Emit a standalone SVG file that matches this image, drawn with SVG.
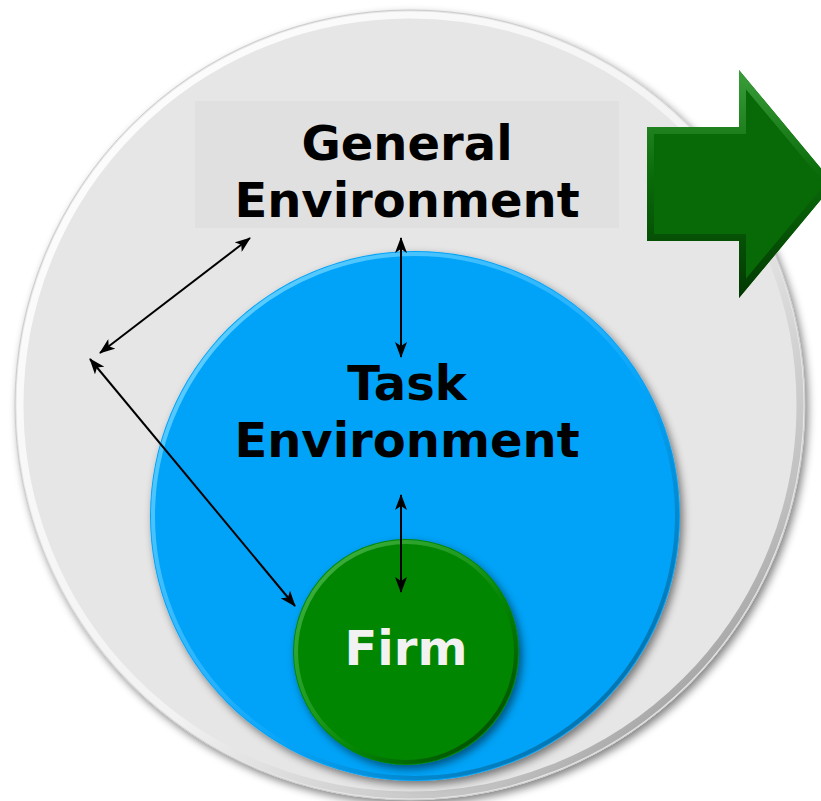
<svg xmlns="http://www.w3.org/2000/svg" width="821" height="801" viewBox="0 0 821 801">
  <defs>
    <style>
      .lbl { font-family: "DejaVu Sans", Verdana, sans-serif; font-weight: bold; font-size: 48px; text-anchor: middle; }
      .dark { fill: #000000; }
      .light { fill: #f2f2f2; }
      .conn { stroke: #000; stroke-width: 2; fill: none; marker-start: url(#ah); marker-end: url(#ah); }
    </style>
    <marker id="ah" viewBox="0 0 16 12" refX="15" refY="6" markerWidth="16" markerHeight="12" markerUnits="userSpaceOnUse" orient="auto-start-reverse">
      <path d="M0,0 L16,6 L0,12 L4,6 z" fill="#000"/>
    </marker>
    <filter id="shadow" x="-10%" y="-10%" width="120%" height="120%">
      <feGaussianBlur in="SourceAlpha" stdDeviation="4"/>
      <feOffset dx="3" dy="4" result="b"/>
      <feComponentTransfer><feFuncA type="linear" slope="0.5"/></feComponentTransfer>
      <feMerge><feMergeNode/><feMergeNode in="SourceGraphic"/></feMerge>
    </filter>
    <linearGradient id="rimGray" x1="0" y1="0" x2="1" y2="1">
      <stop offset="0" stop-color="#ffffff"/>
      <stop offset="0.55" stop-color="#f2f2f2"/>
      <stop offset="0.8" stop-color="#c0c0c0"/>
      <stop offset="1" stop-color="#707070"/>
    </linearGradient>
    <linearGradient id="rimBlue" x1="0" y1="0" x2="1" y2="1">
      <stop offset="0" stop-color="#6fd6ff"/>
      <stop offset="0.45" stop-color="#2ab4ff"/>
      <stop offset="0.6" stop-color="#05a3f8"/>
      <stop offset="1" stop-color="#025c8a"/>
    </linearGradient>
    <linearGradient id="rimGreen" x1="0" y1="0" x2="1" y2="1">
      <stop offset="0" stop-color="#46b446"/>
      <stop offset="0.45" stop-color="#1c981c"/>
      <stop offset="0.6" stop-color="#058605"/>
      <stop offset="1" stop-color="#023c02"/>
    </linearGradient>
    <linearGradient id="bevelArrow" x1="0" y1="0" x2="0" y2="1">
      <stop offset="0" stop-color="#3a9e3a"/>
      <stop offset="0.45" stop-color="#0a6c0a"/>
      <stop offset="1" stop-color="#023802"/>
    </linearGradient>
    <clipPath id="arrowClip">
      <polygon points="647,127 739,127 739,70 834,184 739,298 739,241 647,241"/>
    </clipPath>
  </defs>

  <rect width="821" height="801" fill="#ffffff"/>

  <g id="general-environment">
    <circle cx="410" cy="405" r="395" fill="#e6e6e6" filter="url(#shadow)"/>
    <circle cx="410" cy="405" r="390" fill="none" stroke="url(#rimGray)" stroke-width="7"/>
    <circle cx="410" cy="405" r="395" fill="none" stroke="#cccccc" stroke-width="1"/>
    <rect x="195" y="101" width="424" height="127" fill="#e0e0e0"/>
    <text class="lbl dark" x="407" y="160">General</text>
    <text class="lbl dark" x="407" y="217">Environment</text>
  </g>

  <g id="direction-arrow">
    <polygon points="647,127 739,127 739,70 834,184 739,298 739,241 647,241" fill="#076a07"/>
    <polygon points="647,127 739,127 739,70 834,184 739,298 739,241 647,241" fill="none" stroke="url(#bevelArrow)" stroke-width="14" clip-path="url(#arrowClip)"/>
  </g>

  <g id="task-environment">
    <circle cx="415" cy="516" r="265" fill="#05a3f8" filter="url(#shadow)"/>
    <circle cx="415" cy="516" r="262" fill="none" stroke="url(#rimBlue)" stroke-width="4"/>
    <text class="lbl dark" x="407" y="400">Task</text>
    <text class="lbl dark" x="407" y="457">Environment</text>
  </g>

  <g id="firm">
    <circle cx="406" cy="652" r="113" fill="#058605" filter="url(#shadow)"/>
    <circle cx="406" cy="652" r="110" fill="none" stroke="url(#rimGreen)" stroke-width="4"/>
    <text class="lbl light" x="406" y="665">Firm</text>
  </g>

  <g id="connectors">
    <line class="conn" x1="401" y1="238" x2="401" y2="357"/>
    <line class="conn" x1="401" y1="495" x2="401" y2="592"/>
    <line class="conn" x1="250" y1="238" x2="100" y2="353"/>
    <line class="conn" x1="90" y1="359" x2="295" y2="606"/>
  </g>
</svg>
